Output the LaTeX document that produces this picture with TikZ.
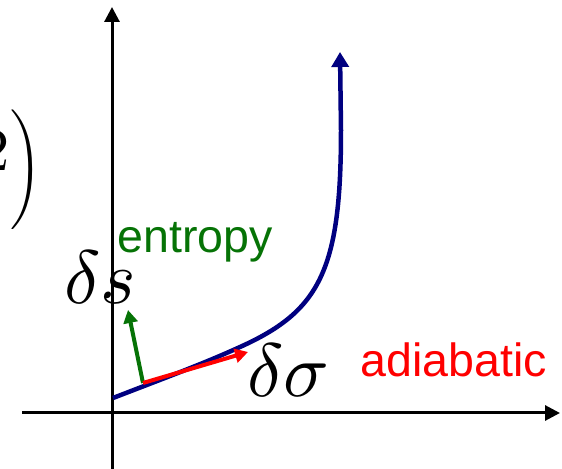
\documentclass[tikz,border=0pt]{standalone}
\usepackage{fontspec}
\newfontfamily\labelfont{Liberation Sans}
\usetikzlibrary{arrows.meta}
\definecolor{curveBlue}{HTML}{000080}
\definecolor{entGreen}{HTML}{067306}
\definecolor{adiRed}{HTML}{FF0000}

\begin{document}
\begin{tikzpicture}[
    x=0.02cm, y=-0.02cm,
    axisarrow/.style={-{Triangle[length=0.3cm, width=0.3cm]}, line width=0.06cm, draw=black},
    curvearrow/.style={-{Triangle[length=0.3cm, width=0.34cm]}, line width=0.09cm, draw=curveBlue},
    entarrow/.style={-{Triangle[length=0.26cm, width=0.28cm]}, line width=0.08cm, draw=entGreen},
    adiarrow/.style={-{Triangle[length=0.26cm, width=0.28cm]}, line width=0.08cm, draw=adiRed},
    labeltext/.style={font=\labelfont\fontsize{26.5}{30}\selectfont, inner sep=0pt},
    mathlabel/.style={scale=4.3, inner sep=0pt}
]
\useasboundingbox (0,0) rectangle (562,469);

% axes
\coordinate (xstart) at (22,413);
\coordinate (xend) at (560,413);
\coordinate (ystart) at (112,469);
\coordinate (yend) at (112,7);
\draw[axisarrow] (xstart) -- (xend);
\draw[axisarrow] (ystart) -- (yend);

% cut-off formula at the left edge
\begin{scope}
\clip (0,0) rectangle (562,469);
\node[mathlabel, scale=0.8, anchor=base east] (two) at (11,171) {$2$};
\end{scope}
\node[scale=2.27, inner sep=0pt] (paren) at (26,170) {$\Bigg)$};

% curve
\coordinate (cstart) at (113,398);
\coordinate (cmid) at (240,347);
\coordinate (cbend) at (341,130);
\coordinate (cend) at (340,52);
\draw[curvearrow] (cstart) .. controls (170,376) and (205,363) .. (cmid)
    .. controls (320,311) and (341,270) .. (cbend) -- (cend);

% tangent vectors
\coordinate (base) at (143,383);
\coordinate (stip) at (128,310);
\coordinate (atip) at (248,352);
\draw[entarrow] (base) -- (stip);
\draw[adiarrow] (base) -- (atip);

% labels
\node[labeltext, text=entGreen, anchor=base west] (entlabel) at (117,253) {entropy};
\node[mathlabel, anchor=base west] (dslabel) at (63,304) {$\delta s$};
\node[mathlabel, anchor=base west] (dsigmalabel) at (246,397) {$\delta\sigma$};
\node[labeltext, text=adiRed, anchor=base west] (adilabel) at (360,377) {adiabatic};

\end{tikzpicture}
\end{document}
